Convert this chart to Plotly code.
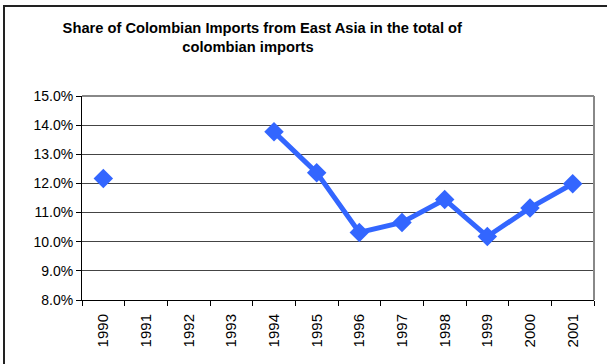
import plotly.graph_objects as go

years = ["1990", "1991", "1992", "1993", "1994", "1995", "1996", "1997", "1998", "1999", "2000", "2001"]
share = [12.17, None, None, None, 13.77, 12.37, 10.32, 10.66, 11.45, 10.18, 11.16, 11.99]
y_ticks = [8, 9, 10, 11, 12, 13, 14, 15]
y_labels = ["8.0%", "9.0%", "10.0%", "11.0%", "12.0%", "13.0%", "14.0%", "15.0%"]

W, H = 607, 364
L, R, T, B = 82, 13, 96, 64
pw, ph = W - L - R, H - T - B

fig = go.Figure()
fig.add_trace(go.Scatter(
    x=years, y=share, mode="lines+markers",
    line=dict(color="#3366FF", width=5),
    marker=dict(symbol="diamond", size=15, color="#3366FF"),
    connectgaps=False, cliponaxis=False, showlegend=False,
))

fig.update_layout(
    width=W, height=H,
    margin=dict(l=L, r=R, t=T, b=B),
    paper_bgcolor="white", plot_bgcolor="white",
    font=dict(family="Liberation Sans, Arial, sans-serif", size=14, color="black"),
    title=dict(
        text="<b>" + "&nbsp;" * 7 + "Share of Colombian Imports from East Asia in the total of<br>colombian imports</b>",
        x=248 / W, xanchor="center", xref="container",
        y=1 - 33 / H, yanchor="top", yref="container",
        font=dict(size=14.7, family="Liberation Sans, Arial, sans-serif"),
    ),
    xaxis=dict(
        type="category", categoryorder="array", categoryarray=years,
        tickangle=-90, tickson="boundaries", ticks="outside", ticklen=5,
        tickcolor="black", showline=True, linecolor="black", linewidth=1,
        showgrid=False, mirror=False, range=[-0.5, 11.5],
        tickfont=dict(size=15), ticklabelstandoff=7,
    ),
    yaxis=dict(
        range=[8, 15], tickvals=y_ticks, ticktext=y_labels,
        ticks="outside", ticklen=5, tickcolor="black",
        showline=True, linecolor="black", linewidth=1,
        showgrid=True, gridcolor="#444444", gridwidth=1,
        zeroline=False, tickfont=dict(size=14),
    ),
    shapes=[
        dict(type="line", xref="paper", yref="paper", x0=0, x1=1, y0=1, y1=1,
             line=dict(color="#888888", width=2)),
        dict(type="line", xref="paper", yref="paper", x0=1, x1=1, y0=0, y1=1,
             line=dict(color="#888888", width=2)),
        dict(type="rect", xref="paper", yref="paper",
             x0=(4 - L) / pw, x1=(W + 20 - L) / pw,
             y0=-(H + 20 - T - ph) / ph, y1=1 + (T - 6) / ph,
             line=dict(color="#222222", width=2), layer="below"),
    ],
)

fig.write_html("out.html")
